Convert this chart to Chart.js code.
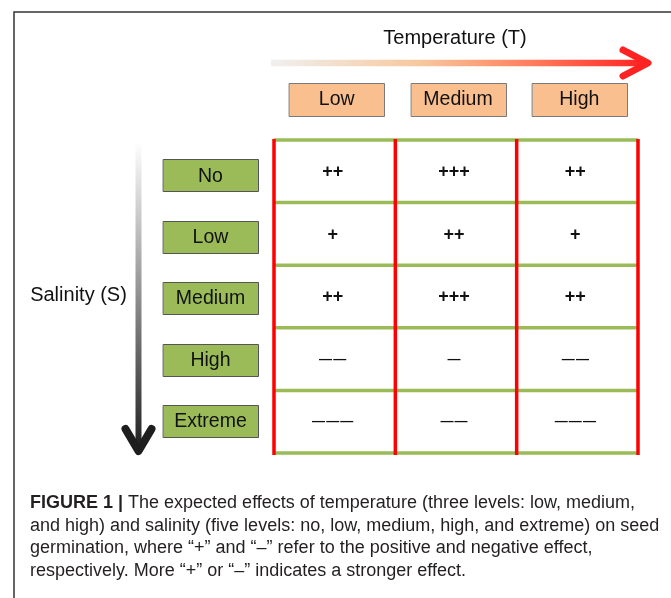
<!DOCTYPE html>
<html>
<head>
<meta charset="utf-8">
<script src="https://cdn.jsdelivr.net/npm/chart.js@4"></script>
<style>
  html, body { margin: 0; padding: 0; background: #ffffff; }
  #wrap { width: 671px; height: 598px; position: relative; }
  canvas { display: block; }
</style>
</head>
<body>
<div id="wrap"><canvas id="c" width="671" height="598"></canvas></div>
<script>
// ---- data ----
const temperatureTitle = 'Temperature (T)';
const salinityTitle = 'Salinity (S)';
const temperatureLevels = ['Low', 'Medium', 'High'];
const salinityLevels = ['No', 'Low', 'Medium', 'High', 'Extreme'];
// rows = salinity levels, columns = temperature levels
const effectNo = ['++', '+++', '++'];
const effectLow = ['+', '++', '+'];
const effectMedium = ['++', '+++', '++'];
const effectHigh = ['——', '—', '——'];
const effectExtreme = ['———', '——', '———'];
const effects = [effectNo, effectLow, effectMedium, effectHigh, effectExtreme];
const captionBold = 'FIGURE 1 |';
const captionLines = [
  ' The expected effects of temperature (three levels: low, medium,',
  'and high) and salinity (five levels: no, low, medium, high, and extreme) on seed',
  'germination, where \u201c+\u201d and \u201c\u2013\u201d refer to the positive and negative effect,',
  'respectively. More \u201c+\u201d or \u201c\u2013\u201d indicates a stronger effect.'
];

// build the cell points
const cellPoints = [];
effects.forEach((row, r) => row.forEach((lab, c) => {
  cellPoints.push({ x: c + 0.5, y: r + 0.5, label: lab });
}));

const FONT = '"Liberation Sans", Arial, sans-serif';

function labelBox(ctx, cx, cy, w, h, fill, stroke, text) {
  ctx.save();
  const x0 = Math.round(cx - w / 2) + 0.5, y0 = Math.round(cy - h / 2) + 0.5;
  ctx.fillStyle = fill;
  ctx.fillRect(x0, y0, w, h);
  ctx.strokeStyle = stroke;
  ctx.lineWidth = 1;
  ctx.strokeRect(x0, y0, w, h);
  ctx.fillStyle = '#111111';
  ctx.font = '19.5px ' + FONT;
  ctx.textAlign = 'center';
  ctx.textBaseline = 'middle';
  ctx.fillText(text, cx, cy + 1);
  ctx.restore();
}

const diagramPlugin = {
  id: 'diagram',
  beforeDatasetsDraw(chart) {
    const ctx = chart.ctx;
    const xs = chart.scales.x, ys = chart.scales.y;
    ctx.save();
    // frame
    ctx.strokeStyle = '#333333';
    ctx.lineWidth = 1.5;
    ctx.beginPath();
    ctx.moveTo(14, 598);
    ctx.lineTo(14, 12);
    ctx.lineTo(671, 12);
    ctx.stroke();

    // green horizontal grid lines
    ctx.strokeStyle = '#9BBB59';
    ctx.lineWidth = 3.5;
    for (let r = 0; r <= salinityLevels.length; r++) {
      const py = ys.getPixelForValue(r);
      ctx.beginPath();
      ctx.moveTo(xs.getPixelForValue(0), py);
      ctx.lineTo(xs.getPixelForValue(temperatureLevels.length), py);
      ctx.stroke();
    }
    // red vertical grid lines
    ctx.strokeStyle = '#FF0000';
    ctx.lineWidth = 3.5;
    for (let c = 0; c <= temperatureLevels.length; c++) {
      const px = xs.getPixelForValue(c);
      ctx.beginPath();
      ctx.moveTo(px, ys.getPixelForValue(0) - 1);
      ctx.lineTo(px, ys.getPixelForValue(salinityLevels.length) + 2);
      ctx.stroke();
    }

    // temperature arrow
    const ax0 = 271, ax1 = 649, ay = 63;
    const g = ctx.createLinearGradient(ax0, 0, ax1, 0);
    g.addColorStop(0, '#f0f0f0');
    g.addColorStop(0.4, '#f8c79c');
    g.addColorStop(0.7, '#ff7a5a');
    g.addColorStop(1, '#ff1f1f');
    ctx.strokeStyle = g;
    ctx.lineCap = 'butt';
    ctx.lineWidth = 6.5;
    ctx.beginPath();
    ctx.moveTo(ax0, ay);
    ctx.lineTo(ax1 - 4, ay);
    ctx.stroke();
    ctx.lineCap = 'round';
    ctx.lineJoin = 'round';
    ctx.lineWidth = 7;
    ctx.strokeStyle = '#ff2222';
    ctx.beginPath();
    ctx.moveTo(623, 50);
    ctx.lineTo(ax1 - 1, ay);
    ctx.lineTo(623, 76);
    ctx.stroke();

    // temperature title
    ctx.fillStyle = '#111111';
    ctx.font = '20px ' + FONT;
    ctx.textAlign = 'center';
    ctx.textBaseline = 'middle';
    ctx.fillText(temperatureTitle, 455, 38);

    // salinity arrow
    const vx = 138.5, vy0 = 142, vy1 = 452;
    const gv = ctx.createLinearGradient(0, vy0, 0, vy1);
    gv.addColorStop(0, '#ffffff');
    gv.addColorStop(0.45, '#9a9a9a');
    gv.addColorStop(1, '#1e1e1e');
    ctx.strokeStyle = gv;
    ctx.lineCap = 'butt';
    ctx.lineWidth = 6;
    ctx.beginPath();
    ctx.moveTo(vx, vy0);
    ctx.lineTo(vx, vy1 - 4);
    ctx.stroke();
    ctx.lineCap = 'round';
    ctx.lineJoin = 'round';
    ctx.lineWidth = 8;
    ctx.strokeStyle = '#1e1e1e';
    ctx.beginPath();
    ctx.moveTo(125.5, 429);
    ctx.lineTo(vx, vy1 - 1);
    ctx.lineTo(151.5, 429);
    ctx.stroke();

    // salinity title
    ctx.fillStyle = '#111111';
    ctx.font = '20px ' + FONT;
    ctx.textAlign = 'center';
    ctx.textBaseline = 'middle';
    ctx.fillText(salinityTitle, 78.5, 295);

    // temperature boxes
    temperatureLevels.forEach((t, c) => {
      const cx = xs.getPixelForValue(c + 0.5) + 2;
      labelBox(ctx, cx, 99, 95, 33, '#F9BF8F', '#7a7a7a', t);
    });
    // salinity boxes
    salinityLevels.forEach((s, r) => {
      const cy = ys.getPixelForValue(r + 0.5) + 4 - 1.2 * r;
      labelBox(ctx, 210.5, cy, 95, 32, '#9BBB59', '#555555', s);
    });

    // caption
    ctx.fillStyle = '#231f20';
    ctx.textAlign = 'left';
    ctx.textBaseline = 'middle';
    const capY = [503, 526, 548, 571];
    ctx.font = 'bold 18px ' + FONT;
    const bw = ctx.measureText(captionBold).width;
    ctx.fillText(captionBold, 30, capY[0]);
    ctx.font = '18px ' + FONT;
    ctx.fillText(captionLines[0], 30 + bw, capY[0]);
    for (let i = 1; i < captionLines.length; i++) {
      ctx.fillText(captionLines[i], 30, capY[i]);
    }
    ctx.restore();
  },
  afterDatasetsDraw(chart) {
    const ctx = chart.ctx;
    const meta = chart.getDatasetMeta(0);
    const ds = chart.data.datasets[0].data;
    ctx.save();
    ctx.fillStyle = '#111111';
    ctx.textAlign = 'center';
    ctx.textBaseline = 'middle';
    meta.data.forEach((pt, i) => {
      const lab = ds[i].label;
      if (lab.indexOf('+') >= 0) {
        ctx.font = 'bold 18px ' + FONT;
        if ('letterSpacing' in ctx) ctx.letterSpacing = '0px';
        ctx.fillText(lab, pt.x - 2, pt.y + 1);
      } else {
        ctx.font = 'bold 13px ' + FONT;
        if ('letterSpacing' in ctx) ctx.letterSpacing = '1.2px';
        ctx.fillText(lab, pt.x - 2 + 0.6, pt.y);
      }
    });
    ctx.restore();
  }
};

new Chart(document.getElementById('c'), {
  type: 'scatter',
  data: {
    datasets: [{
      label: 'Effect',
      data: cellPoints,
      pointRadius: 0,
      pointHoverRadius: 0,
      showLine: false
    }]
  },
  options: {
    responsive: false,
    devicePixelRatio: 1,
    animation: false,
    events: [],
    layout: { padding: { left: 274, right: 33, top: 140, bottom: 145 } },
    plugins: { legend: { display: false }, tooltip: { enabled: false } },
    scales: {
      x: { type: 'linear', min: 0, max: temperatureLevels.length, display: false },
      y: { type: 'linear', min: 0, max: salinityLevels.length, reverse: true, display: false }
    }
  },
  plugins: [diagramPlugin]
});
</script>
</body>
</html>
